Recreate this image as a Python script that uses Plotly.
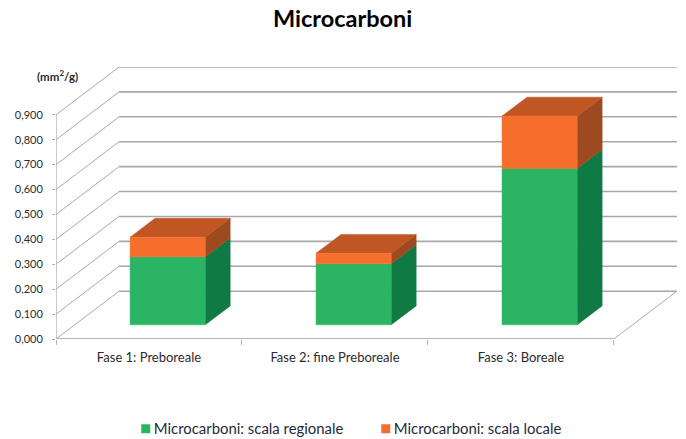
import plotly.graph_objects as go

categories = ["Fase 1: Preboreale", "Fase 2: fine Preboreale", "Fase 3: Boreale"]
regionale = [0.273, 0.245, 0.628]
locale = [0.079, 0.042, 0.210]
y_ticks = [0.0, 0.1, 0.2, 0.3, 0.4, 0.5, 0.6, 0.7, 0.8, 0.9]
y_labels = ["0,000", "0,100", "0,200", "0,300", "0,400", "0,500", "0,600", "0,700", "0,800", "0,900"]
series_names = ["Microcarboni: scala regionale", "Microcarboni: scala locale"]

# oblique projection of the 3-D chart box
DEPTH_X = 0.3393   # category units for full depth
DEPTH_Y = 0.192    # value units for full depth
BAR_W = 0.404
D_FRONT, D_BACK = 0.296, 0.692

GREEN = ("#2BB463", "#107A44")
ORANGE = ("#F66E2C", "#9E4A20", "#C05623")
GRID = "#A8A8A8"


def proj(c, v, d):
    return c + d * DEPTH_X, v + d * DEPTH_Y


def line(points, width=1.0, color=GRID):
    xs, ys = zip(*[proj(*p) for p in points])
    return go.Scatter(x=xs, y=ys, mode="lines", line=dict(color=color, width=width),
                      showlegend=False, hoverinfo="skip")


def face(points, color):
    xs, ys = zip(*[proj(*p) for p in points])
    return go.Scatter(x=list(xs) + [xs[0]], y=list(ys) + [ys[0]], mode="lines", fill="toself",
                      fillcolor=color, line=dict(color=color, width=0.5),
                      showlegend=False, hoverinfo="skip")


n = len(categories)
fig = go.Figure()

# walls
for v in y_ticks:
    fig.add_trace(line([(0, v, 0), (0, v, 1)], 1.0))
    fig.add_trace(line([(0, v, 1), (n, v, 1)], 1.6))
fig.add_trace(line([(n, 0, 0), (n, 0, 1)], 1.0))
fig.add_trace(line([(0, 0, 0), (n, 0, 0)], 1.8, "#B4B4B4"))
fig.add_trace(line([(0, 0, 0), (0, y_ticks[-1], 0)], 1.4, "#B4B4B4"))

# bars
for i in range(n):
    a = i + 0.5 - BAR_W / 2
    b = i + 0.5 + BAR_W / 2
    g = regionale[i]
    t = g + locale[i]
    fig.add_trace(face([(b, 0, D_FRONT), (b, 0, D_BACK), (b, g, D_BACK), (b, g, D_FRONT)], GREEN[1]))
    fig.add_trace(face([(b, g, D_FRONT), (b, g, D_BACK), (b, t, D_BACK), (b, t, D_FRONT)], ORANGE[1]))
    fig.add_trace(face([(a, t, D_FRONT), (b, t, D_FRONT), (b, t, D_BACK), (a, t, D_BACK)], ORANGE[2]))
    fig.add_trace(face([(a, 0, D_FRONT), (b, 0, D_FRONT), (b, g, D_FRONT), (a, g, D_FRONT)], GREEN[0]))
    fig.add_trace(face([(a, g, D_FRONT), (b, g, D_FRONT), (b, t, D_FRONT), (a, t, D_FRONT)], ORANGE[0]))

# legend entries
for name, col in zip(series_names, (GREEN[0], ORANGE[0])):
    fig.add_trace(go.Scatter(x=[None], y=[None], mode="markers", name=name,
                             marker=dict(symbol="square", size=9, color=col)))

fig.update_layout(
    width=686, height=439,
    margin=dict(l=56, r=9, t=67, b=99.5, autoexpand=False),
    paper_bgcolor="white", plot_bgcolor="white",
    font=dict(family="Lato", color="#2b2b2b", size=11),
    title=dict(text="<b>Microcarboni</b>", x=0.4995, xanchor="center", y=0.958, yanchor="middle",
               font=dict(family="Lato", size=23.5, color="#000000")),
    xaxis=dict(range=[0, n + DEPTH_X], showgrid=False, zeroline=False, showline=False,
               tickmode="array", tickvals=[i + 0.5 for i in range(n)], ticktext=categories,
               ticks="", ticklen=0, tickfont=dict(size=13), ticklabelstandoff=9,
               minor=dict(tickmode="array", tickvals=list(range(n + 1)), ticks="outside",
                          ticklen=5, tickcolor="#B4B4B4", tickwidth=1)),
    yaxis=dict(range=[0, y_ticks[-1] + DEPTH_Y], showgrid=False, zeroline=False, showline=False,
               tickmode="array", tickvals=y_ticks, ticktext=y_labels,
               ticks="outside", ticklen=3, tickcolor="#B4B4B4", tickwidth=1,
               tickfont=dict(size=11), ticklabelstandoff=7),
    legend=dict(orientation="h", x=0.093, xanchor="left", y=-0.27, yanchor="top",
                font=dict(size=14.9, color="#1f2a3a"), entrywidth=195, entrywidthmode="pixels",
                itemclick=False, itemdoubleclick=False, bgcolor="rgba(0,0,0,0)"),
    hovermode=False,
    annotations=[dict(text="<b>(mm<sup>2</sup>/g)</b>", xref="paper", yref="paper",
                      x=0.003, y=0.97, xanchor="center", yanchor="middle", showarrow=False,
                      font=dict(size=11.5, color="#2b2b2b"))],
)

fig.write_html("out.html", config={"displayModeBar": False},
               post_script="document.body.style.margin='0';"
                           "document.querySelectorAll('.legendsymbols').forEach(function(n){n.setAttribute('transform','translate(12,0)');});")
